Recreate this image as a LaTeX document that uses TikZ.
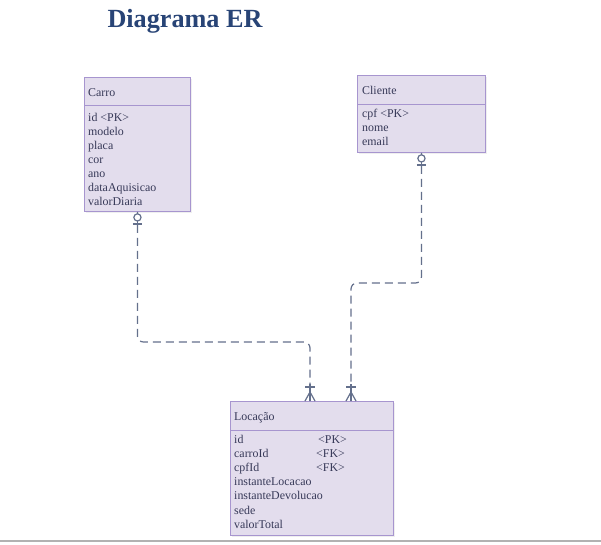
\documentclass[tikz,border=0pt]{standalone}
\usepackage{fontspec}
\setmainfont{Liberation Serif}
\usetikzlibrary{calc,shadows}
\definecolor{boxfill}{RGB}{227,221,237}
\definecolor{boxline}{RGB}{167,149,207}
\definecolor{txt}{RGB}{55,57,88}
\definecolor{relcol}{RGB}{100,112,140}
\definecolor{titlecol}{RGB}{40,68,118}
\tikzset{
  entity/.style={draw=boxline, fill=boxfill, line width=0.9pt, anchor=north west, inner sep=0pt,
    drop shadow={opacity=0.12, shadow xshift=1.5pt, shadow yshift=-1.5pt}},
  sep/.style={draw=boxline, line width=0.9pt},
  attr/.style={font=\fontsize{11.9}{13}\selectfont, text=txt, anchor=base west, inner sep=0pt},
  rel/.style={draw=relcol, line width=1.2pt, dash pattern=on 8pt off 5pt, rounded corners=6pt},
  sym/.style={draw=relcol, line width=1.2pt},
}
\begin{document}
\begin{tikzpicture}[x=1pt,y=-1pt]
\useasboundingbox (0,0) rectangle (601,544);
\fill[white] (0,0) rectangle (601,544);
\fill[black!30] (0,539.5) rectangle (601,542);

\node[font=\fontsize{26.2}{30}\selectfont\bfseries, text=titlecol] (title) at (185,21) {Diagrama ER};

% Carro
\node[entity, minimum width=106, minimum height=134] (carro) at (84,77) {};
\draw[sep] ($(carro.north west)+(0,28)$) -- ($(carro.north east)+(0,28)$);
\node[attr] (carroT) at (88,96) {Carro};
\foreach \t [count=\i from 0] in {id <PK>,modelo,placa,cor,ano,dataAquisicao,valorDiaria}
  \node[attr] (carroA\i) at (88,121+14.1*\i) {\t};

% Cliente
\node[entity, minimum width=128, minimum height=77] (cliente) at (357,75) {};
\draw[sep] ($(cliente.north west)+(0,29)$) -- ($(cliente.north east)+(0,29)$);
\node[attr] (clienteT) at (362,94) {Cliente};
\foreach \t [count=\i from 0] in {cpf <PK>,nome,email}
  \node[attr] (clienteA\i) at (362,117+14.3*\i) {\t};

% Locacao
\node[entity, minimum width=163, minimum height=134] (loc) at (230,401) {};
\draw[sep] ($(loc.north west)+(0,29)$) -- ($(loc.north east)+(0,29)$);
\node[attr] (locT) at (234,420) {Locação};
\foreach \t [count=\i from 0] in {id,carroId,cpfId,instanteLocacao,instanteDevolucao,sede,valorTotal}
  \node[attr] (locA\i) at (234,443+14.2*\i) {\t};
\node[attr] (locK0) at (318,443) {<PK>};
\node[attr] (locK1) at (316,457.2) {<FK>};
\node[attr] (locK2) at (316,471.4) {<FK>};

% connection points
\coordinate (la) at ($(loc.north west)+(80,0)$);
\coordinate (lb) at ($(loc.north west)+(121,0)$);

% relations
\draw[rel] (carro.south) |- ($(la)+(0,-59)$) -- (la);
\draw[rel] (cliente.south) |- ($(lb)+(0,-118)$) -- (lb);

% zero-or-one symbols
\foreach \e in {carro,cliente}{
  \draw[sym] (\e.south) -- ($(\e.south)+(0,16)$);
  \draw[sym] ($(\e.south)+(-4.5,12)$) -- ($(\e.south)+(4.5,12)$);
  \draw[sym, fill=white] ($(\e.south)+(0,5.5)$) circle (3.6);
}
% one-or-many symbols
\foreach \c in {la,lb}{
  \draw[sym] ($(\c)+(0,-17)$) -- (\c);
  \draw[sym] ($(\c)+(-5,-14)$) -- ($(\c)+(5,-14)$);
  \draw[sym] ($(\c)+(0,-9)$) -- ($(\c)+(-5,0)$);
  \draw[sym] ($(\c)+(0,-9)$) -- ($(\c)+(5,0)$);
}
\end{tikzpicture}
\end{document}
